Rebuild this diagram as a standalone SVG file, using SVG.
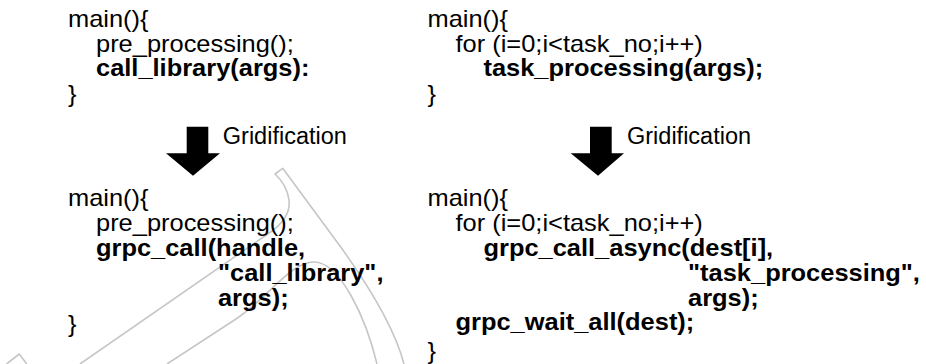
<svg xmlns="http://www.w3.org/2000/svg" width="926" height="364" viewBox="0 0 926 364">
  <style>
    .code { font-family: "Liberation Sans", Arial, Helvetica, sans-serif; font-size: 24px; fill: #000; }
    .b { font-weight: bold; }
    .label { font-family: "Liberation Sans", Arial, Helvetica, sans-serif; font-size: 23.5px; fill: #000; }
    .faint { fill: none; stroke: #c6c6c6; stroke-width: 1.6; stroke-linejoin: round; }
    .bigarrow { fill: #000; stroke: none; }
  </style>

  <rect width="926" height="364" fill="#fff"/>

  <!-- light background outline -->
  <g id="backdrop">
    <path class="faint" d="M 80,364 L 272,231 Q 291,217 289,200 Q 287,185 275,174 L 282.7,168.3 L 340,246 Q 392,318 404,364"/>
    <path class="faint" d="M 167,364 L 236,319 C 268,298 290,262 314,262 C 340,262 366,318 377,364"/>
    <path class="faint" d="M 6.6,364 L 19.3,354 L 26.7,364"/>
  </g>

  <!-- original program: library call -->
  <g id="src-library" transform="translate(68,0) scale(1.06,1)">
    <text class="code" x="0" y="27">main(){</text>
    <text class="code" x="26.4" y="52">pre_processing();</text>
    <text class="code b" x="26.4" y="76.5">call_library(args):</text>
    <text class="code" x="0" y="102.5">}</text>
  </g>

  <!-- original program: task loop -->
  <g id="src-tasks" transform="translate(427.5,0) scale(1.06,1)">
    <text class="code" x="0" y="27">main(){</text>
    <text class="code" x="26.4" y="52">for (i=0;i&lt;task_no;i++)</text>
    <text class="code b" x="52.8" y="76.5">task_processing(args);</text>
    <text class="code" x="0" y="102.5">}</text>
  </g>

  <!-- gridified program: remote library call -->
  <g id="grid-library" transform="translate(68,0) scale(1.06,1)">
    <text class="code" x="0" y="206.5">main(){</text>
    <text class="code" x="26.4" y="231.3">pre_processing();</text>
    <text class="code b" x="26.4" y="256">grpc_call(handle,</text>
    <text class="code b" x="141.5" y="280.8">"call_library",</text>
    <text class="code b" x="141.5" y="305.6">args);</text>
    <text class="code" x="0" y="332">}</text>
  </g>

  <!-- gridified program: asynchronous task calls -->
  <g id="grid-tasks" transform="translate(427.5,0) scale(1.06,1)">
    <text class="code" x="0" y="206.5">main(){</text>
    <text class="code" x="26.4" y="231.3">for (i=0;i&lt;task_no;i++)</text>
    <text class="code b" x="52.8" y="256">grpc_call_async(dest[i],</text>
    <text class="code b" x="245.8" y="280.8">"task_processing",</text>
    <text class="code b" x="245.8" y="305.6">args);</text>
    <text class="code b" x="26.4" y="330.4">grpc_wait_all(dest);</text>
    <text class="code" x="0" y="359">}</text>
  </g>

  <!-- transformation arrows -->
  <g id="connectors">
    <g id="arrow-left">
      <path class="bigarrow" d="M 186.7,126.7 H 208.3 V 153.3 H 220 L 193,175.7 L 166,153.3 H 186.7 Z"/>
      <text class="label" x="222.8" y="144">Gridification</text>
    </g>
    <g id="arrow-right">
      <path class="bigarrow" d="M 590,126.7 H 611.7 V 153.3 H 624 L 598,175.7 L 570.7,153.3 H 590 Z"/>
      <text class="label" x="627" y="144">Gridification</text>
    </g>
  </g>
</svg>
